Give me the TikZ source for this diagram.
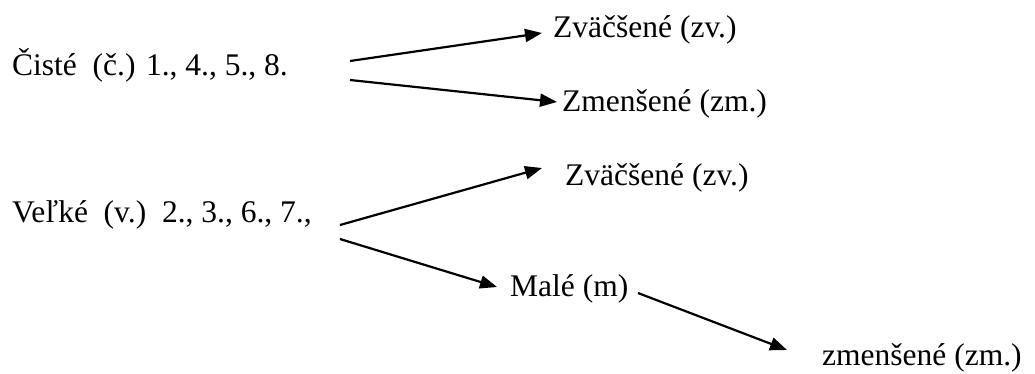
\documentclass[tikz,border=0pt]{standalone}
\usepackage{fontspec}
\newfontfamily\tnr{Liberation Serif}
\usetikzlibrary{arrows.meta}
\begin{document}
\begin{tikzpicture}[x=1pt,y=-1pt,
  lbl/.style={anchor=base west,inner sep=0pt,font=\tnr\fontsize{31.5}{36}\selectfont},
  arr/.style={line width=2.2pt,-{Triangle[length=17pt,width=13pt]}}]
\useasboundingbox (0,0) rectangle (1035,373);
\node[lbl] (ciste) at (12,75) {Čisté\ \ (č.) 1., 4., 5., 8.};
\node[lbl] (zv1) at (553,37) {Zväčšené (zv.)};
\node[lbl] (zm1) at (562,111) {Zmenšené (zm.)};
\node[lbl] (velke) at (12,222) {Veľké\ \ (v.)\ \ 2., 3., 6., 7.,};
\node[lbl] (zv2) at (565,185) {Zväčšené (zv.)};
\node[lbl] (male) at (510,296) {Malé (m)};
\node[lbl] (zm2) at (822,365) {zmenšené (zm.)};
\coordinate (a1s) at (350,61);
\coordinate (a1e) at (542,33);
\coordinate (a2s) at (350,80);
\coordinate (a2e) at (557,102);
\coordinate (a3s) at (340,225);
\coordinate (a3e) at (542,168);
\coordinate (a4s) at (340,239);
\coordinate (a4e) at (497,287);
\coordinate (a5s) at (638,293);
\coordinate (a5e) at (787,350);
\draw[arr] (a1s) -- (a1e);
\draw[arr] (a2s) -- (a2e);
\draw[arr] (a3s) -- (a3e);
\draw[arr] (a4s) -- (a4e);
\draw[arr] (a5s) -- (a5e);
\end{tikzpicture}
\end{document}
